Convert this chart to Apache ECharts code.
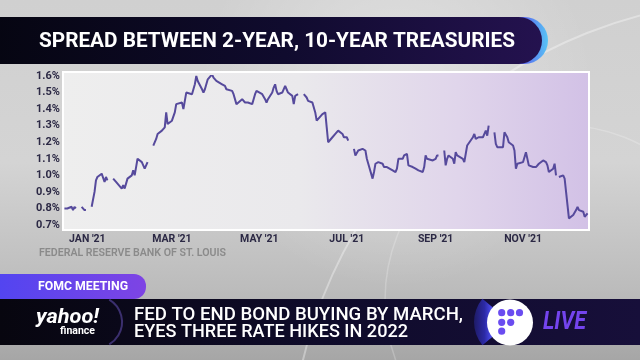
<!DOCTYPE html>
<html><head><meta charset="utf-8">
<script src="https://cdn.jsdelivr.net/npm/echarts@6/dist/echarts.min.js"></script>
<style>html,body{margin:0;padding:0;background:#cccccc}#c{width:640px;height:360px}</style>
</head><body><div id="c"></div>
<script>
// ---------- DATA ----------
const dates = [
'2020-12-16','2020-12-17','2020-12-18','2020-12-21','2020-12-22','2020-12-23','2020-12-24','2020-12-25',
'2020-12-28','2020-12-29','2020-12-30','2020-12-31','2021-01-01',
'2021-01-04','2021-01-05','2021-01-06','2021-01-07','2021-01-08','2021-01-11','2021-01-12','2021-01-13','2021-01-14','2021-01-15','2021-01-18',
'2021-01-19','2021-01-20','2021-01-21','2021-01-22','2021-01-25','2021-01-26','2021-01-27','2021-01-28','2021-01-29',
'2021-02-01','2021-02-02','2021-02-03','2021-02-04','2021-02-05','2021-02-08','2021-02-09','2021-02-10','2021-02-11','2021-02-12','2021-02-15',
'2021-02-16','2021-02-17','2021-02-18','2021-02-19','2021-02-22','2021-02-23','2021-02-24','2021-02-25','2021-02-26',
'2021-03-01','2021-03-02','2021-03-03','2021-03-04','2021-03-05','2021-03-08','2021-03-09','2021-03-10','2021-03-11','2021-03-12',
'2021-03-15','2021-03-16','2021-03-17','2021-03-18','2021-03-19','2021-03-22','2021-03-23','2021-03-24','2021-03-25','2021-03-26',
'2021-03-29','2021-03-30','2021-03-31','2021-04-01','2021-04-02','2021-04-05','2021-04-06','2021-04-07','2021-04-08','2021-04-09',
'2021-04-12','2021-04-13','2021-04-14','2021-04-15','2021-04-16','2021-04-19','2021-04-20','2021-04-21','2021-04-22','2021-04-23',
'2021-04-26','2021-04-27','2021-04-28','2021-04-29','2021-04-30','2021-05-03','2021-05-04','2021-05-05','2021-05-06','2021-05-07',
'2021-05-10','2021-05-11','2021-05-12','2021-05-13','2021-05-14','2021-05-17','2021-05-18','2021-05-19','2021-05-20','2021-05-21',
'2021-05-24','2021-05-25','2021-05-26','2021-05-27','2021-05-28','2021-05-31',
'2021-06-01','2021-06-02','2021-06-03','2021-06-04','2021-06-07','2021-06-08','2021-06-09','2021-06-10','2021-06-11',
'2021-06-14','2021-06-15','2021-06-16','2021-06-17','2021-06-18','2021-06-21','2021-06-22','2021-06-23','2021-06-24','2021-06-25',
'2021-06-28','2021-06-29','2021-06-30','2021-07-01','2021-07-02','2021-07-05',
'2021-07-06','2021-07-07','2021-07-08','2021-07-09','2021-07-12','2021-07-13','2021-07-14','2021-07-15','2021-07-16',
'2021-07-19','2021-07-20','2021-07-21','2021-07-22','2021-07-23','2021-07-26','2021-07-27','2021-07-28','2021-07-29','2021-07-30',
'2021-08-02','2021-08-03','2021-08-04','2021-08-05','2021-08-06','2021-08-09','2021-08-10','2021-08-11','2021-08-12','2021-08-13',
'2021-08-16','2021-08-17','2021-08-18','2021-08-19','2021-08-20','2021-08-23','2021-08-24','2021-08-25','2021-08-26','2021-08-27',
'2021-08-30','2021-08-31','2021-09-01','2021-09-02','2021-09-03','2021-09-06',
'2021-09-07','2021-09-08','2021-09-09','2021-09-10','2021-09-13','2021-09-14','2021-09-15','2021-09-16','2021-09-17',
'2021-09-20','2021-09-21','2021-09-22','2021-09-23','2021-09-24','2021-09-27','2021-09-28','2021-09-29','2021-09-30','2021-10-01',
'2021-10-04','2021-10-05','2021-10-06','2021-10-07','2021-10-08','2021-10-11',
'2021-10-12','2021-10-13','2021-10-14','2021-10-15','2021-10-18','2021-10-19','2021-10-20','2021-10-21','2021-10-22',
'2021-10-25','2021-10-26','2021-10-27','2021-10-28','2021-10-29','2021-11-01','2021-11-02','2021-11-03','2021-11-04','2021-11-05',
'2021-11-08','2021-11-09','2021-11-10','2021-11-12','2021-11-15','2021-11-16','2021-11-17','2021-11-18','2021-11-19',
'2021-11-22','2021-11-23','2021-11-24','2021-11-25','2021-11-26','2021-11-29','2021-11-30',
'2021-12-01','2021-12-02','2021-12-03','2021-12-06','2021-12-07','2021-12-08','2021-12-09','2021-12-10',
'2021-12-13','2021-12-14','2021-12-15','2021-12-16'
];
const spread = [
0.80,0.81,0.80,0.81,0.79,0.81,0.80,null,
0.81,0.80,0.79,0.79,null,
0.81,0.82,0.90,0.97,0.99,1.01,1.00,0.96,0.99,0.97,null,
0.98,0.97,0.96,0.95,0.92,0.94,0.92,0.95,0.98,
1.00,1.03,1.00,1.05,1.10,1.08,1.06,1.04,1.06,1.08,null,
1.18,1.18,1.22,1.25,1.27,1.27,1.29,1.38,1.31,
1.33,1.33,1.38,1.43,1.42,1.44,1.40,1.45,1.50,1.51,
1.49,1.50,1.55,1.60,1.57,1.52,1.50,1.52,1.55,1.58,
1.61,1.59,1.60,1.57,1.56,1.55,1.54,1.54,1.52,1.53,
1.51,1.49,1.48,1.43,1.44,1.46,1.45,1.44,1.43,1.44,
1.43,1.46,1.49,1.51,1.51,1.49,1.48,1.46,1.44,1.46,
1.50,1.53,1.55,1.51,1.49,1.50,1.50,1.54,1.52,1.50,
1.48,1.43,1.48,1.47,1.49,null,
1.49,1.49,1.47,1.45,1.44,1.43,1.38,1.33,1.34,
1.37,1.38,1.38,1.29,1.20,1.23,1.24,1.25,1.24,1.27,
1.25,1.23,1.22,1.23,1.21,null,
1.16,1.12,1.13,1.15,1.16,1.17,1.15,1.10,1.07,
0.98,1.02,1.07,1.08,1.08,1.07,1.05,1.06,1.05,1.04,
1.03,1.02,1.02,1.04,1.10,1.10,1.12,1.12,1.13,1.06,
1.05,1.04,1.04,1.03,1.03,1.02,1.05,1.12,1.10,1.10,
1.09,1.10,1.10,1.12,1.12,null,
1.15,1.06,1.10,1.12,1.10,1.07,1.14,1.12,1.11,
1.10,1.08,1.07,1.18,1.19,1.23,1.25,1.22,1.22,1.23,
1.23,1.25,1.27,1.24,1.30,null,
1.26,1.19,1.17,1.18,1.17,1.26,1.26,1.23,1.20,
1.18,1.15,1.04,1.07,1.08,1.08,1.09,1.14,1.14,1.06,
1.05,1.05,1.05,1.07,1.09,1.10,1.08,1.06,1.02,
1.04,1.07,1.00,null,0.99,1.00,0.98,
0.90,0.82,0.74,0.76,0.77,0.79,0.81,0.79,
0.78,0.75,0.76,0.77
];
const yMin = 0.7, yMax = 1.6, yStep = 0.1;
const tickDates = ['2021-01-01','2021-03-01','2021-05-01','2021-07-01','2021-09-01','2021-11-01'];
const tickLabels = ["JAN '21","MAR '21","MAY '21","JUL '21","SEP '21","NOV '21"];
const axisStart = '2020-12-15', axisEnd = '2021-12-17';
const titleText = 'SPREAD BETWEEN 2-YEAR, 10-YEAR TREASURIES';
const sourceText = 'FEDERAL RESERVE BANK OF ST. LOUIS';
const tagText = 'FOMC MEETING';
const headline1 = 'FED TO END BOND BUYING BY MARCH,';
const headline2 = 'EYES THREE RATE HIKES IN 2022';

// ---------- HELPERS ----------
function ts(s){ const p = s.split('-').map(Number); return Date.UTC(p[0], p[1]-1, p[2]); }
const mctx = document.createElement('canvas').getContext('2d');
function fitText(text, x, y, width, size, weight, family, fill, style){
  const font = (style||'normal') + ' ' + weight + ' ' + size + 'px ' + family;
  mctx.font = font;
  const w = mctx.measureText(text).width;
  return {type:'text', x:x, y:y, scaleX: width / w, z: 100,
    style:{text:text, font:font, fill:fill, textAlign:'left', textVerticalAlign:'middle'}};
}
const seriesData = dates.map((d,i)=>[ts(d), spread[i]]);
const tickTs = tickDates.map(ts);

const chart = echarts.init(document.getElementById('c'), null, {renderer:'canvas'});
const LG = (x,y,x2,y2,stops)=>({type:'linear',x:x,y:y,x2:x2,y2:y2,colorStops:stops.map(s=>({offset:s[0],color:s[1]}))});

const graphics = [
  {type:'rect', z:-20, shape:{x:0,y:0,width:640,height:360},
   style:{fill:LG(0,0,0,1,[[0,'#d0d0d0'],[0.45,'#d4d4d4'],[0.8,'#bcbcbc'],[1,'#a6a6a6']])}},
  {type:'rect', z:-19, shape:{x:0,y:0,width:640,height:360},
   style:{fill:{type:'radial',x:0.62,y:0.25,r:0.55,colorStops:[{offset:0,color:'rgba(255,255,255,0.35)'},{offset:1,color:'rgba(255,255,255,0)'}]}}},
  {type:'circle', z:-18, shape:{cx:760,cy:470,r:470}, style:{fill:'none',stroke:'rgba(255,255,255,0.35)',lineWidth:2}},
  {type:'circle', z:-18, shape:{cx:560,cy:300,r:175}, style:{fill:'none',stroke:'rgba(255,255,255,0.22)',lineWidth:1.5}},
  {type:'rect', z:50, shape:{x:-30,y:17,width:578,height:47,r:[0,24,24,0]},
   style:{fill:LG(0,0,1,0,[[0,'#2a1e80'],[0.88,'#4a34d8'],[0.96,'#5a6cf0'],[1,'#58c4f4']])}},
  {type:'rect', z:51, shape:{x:-30,y:17,width:572,height:47,r:[0,24,24,0]},
   style:{fill:LG(0,0,1,0,[[0,'#05050f'],[0.55,'#100b2e'],[1,'#24124f']])}},
  fitText(titleText, 39, 41.5, 476, 21, 'bold', 'Roboto', '#ffffff'),
  {type:'rect', z:-5, shape:{x:63,y:72,width:526,height:158},
   style:{fill:LG(0,0,1,0,[[0,'#eeeeee'],[0.45,'#eae9ec'],[0.75,'#e0d5eb'],[1,'#d2c1e6']]), stroke:'#ffffff', lineWidth:2}},
  fitText(sourceText, 39, 253, 187, 10, 600, 'Roboto', '#8a8a8a'),
  {type:'rect', z:60, shape:{x:-20,y:274,width:166,height:25,r:[0,12,12,0]},
   style:{fill:LG(0,0,1,0,[[0,'#4d45f2'],[1,'#7e44e4']])}},
  fitText(tagText, 38, 287, 90, 13, 'bold', 'Roboto', '#ffffff'),
  {type:'rect', z:60, shape:{x:0,y:299,width:640,height:46},
   style:{fill:LG(0,0,1,0,[[0,'#07060f'],[0.5,'#0f0b2a'],[1,'#170f3a']])}},
  {type:'arc', z:61, shape:{cx:96,cy:322,r:26,startAngle:-Math.PI*0.33,endAngle:Math.PI*0.33},
   style:{fill:'none',stroke:'#3b2f6e',lineWidth:2}},
  fitText('yahoo!', 36, 318, 63, 21, 'bold', 'Roboto', '#ffffff', 'italic'),
  fitText('finance', 60, 331, 35, 10, 'bold', 'Roboto', '#ffffff'),
  fitText(headline1, 134, 315.5, 329, 19, 500, 'Roboto', '#ffffff'),
  fitText(headline2, 134, 332, 274, 19, 500, 'Roboto', '#ffffff'),
  {type:'sector', z:62, shape:{cx:510,cy:322,r:36,r0:22,startAngle:Math.PI*140/180,endAngle:Math.PI*220/180},
   style:{fill:LG(0,0,1,0,[[0,'#1e1b66'],[0.55,'#2c2aa6'],[0.85,'#4646e0'],[1,'#5a5af4']])}},
  {type:'circle', z:63, shape:{cx:510,cy:322.5,r:23}, style:{fill:'#ffffff'}},
  {type:'circle', z:64, shape:{cx:501.7,cy:312.7,r:3.6}, style:{fill:'#6a4cf0'}},
  {type:'circle', z:64, shape:{cx:510.7,cy:312.7,r:3.6}, style:{fill:'#6a4cf0'}},
  {type:'circle', z:64, shape:{cx:519.5,cy:312.7,r:3.6}, style:{fill:'#6a4cf0'}},
  {type:'circle', z:64, shape:{cx:501.7,cy:322.3,r:3.6}, style:{fill:'#6a4cf0'}},
  {type:'circle', z:64, shape:{cx:510.7,cy:322.3,r:3.6}, style:{fill:'#6a4cf0'}},
  {type:'circle', z:64, shape:{cx:501.7,cy:331.2,r:3.6}, style:{fill:'#6a4cf0'}},
  fitText('LIVE', 543, 322.5, 43, 26, 'bold', 'Roboto', '#7444ee', 'italic')
];

chart.setOption({
  animation:false,
  backgroundColor:'transparent',
  grid:{left:63, right:51, top:76, bottom:135, containLabel:false},
  xAxis:{type:'value', min:ts(axisStart), max:ts(axisEnd), scale:true,
    axisLine:{show:false}, axisTick:{show:false}, splitLine:{show:false},
    axisLabel:{customValues:tickTs, margin:9, color:'#2b2844', fontFamily:'Roboto', fontWeight:'bold', fontSize:10.5,
      hideOverlap:false, showMinLabel:true, showMaxLabel:true,
      formatter:function(v){ const i = tickTs.findIndex(t=>Math.abs(t-v)<43200000); return i>=0?tickLabels[i]:''; }}},
  yAxis:{type:'value', min:yMin, max:yMax, interval:yStep,
    axisLine:{show:false}, axisTick:{show:false}, splitLine:{show:false},
    axisLabel:{margin:3, color:'#2b2844', fontFamily:'Roboto', fontWeight:'bold', fontSize:11,
      formatter:function(v){ return v.toFixed(1)+'%'; }}},
  series:[{type:'line', data:seriesData, showSymbol:false, connectNulls:false,
    lineStyle:{color:'#564a9c', width:2}, z:5}],
  graphic:{elements:graphics}
});
</script></body></html>
